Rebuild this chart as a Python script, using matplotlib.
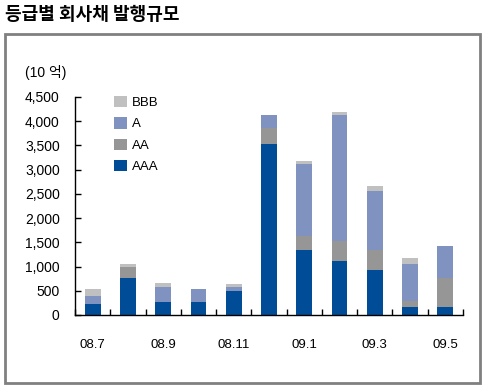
import matplotlib
matplotlib.use("Agg")
import matplotlib.pyplot as plt
from matplotlib.patches import Rectangle
import numpy as np

plt.rcParams['font.family'] = ['Liberation Sans', 'Noto Sans CJK KR', 'DejaVu Sans']

months = ["08.7", "08.8", "08.9", "08.10", "08.11", "08.12", "09.1", "09.2", "09.3", "09.4", "09.5"]
tick_labels = ["08.7", "", "08.9", "", "08.11", "", "09.1", "", "09.3", "", "09.5"]
aaa = [230, 765, 270, 270, 495, 3520, 1345, 1115, 930, 165, 165]
aa = [0, 225, 0, 0, 0, 345, 290, 405, 415, 125, 600]
a = [165, 0, 310, 265, 85, 265, 1490, 2610, 1220, 765, 660]
bbb = [145, 60, 80, 0, 60, 0, 60, 65, 100, 125, 0]

colors = {"AAA": "#004C97", "AA": "#969696", "A": "#7F92C0", "BBB": "#C0C0C0"}

fig = plt.figure(figsize=(4.85, 3.87), dpi=100)
ax = fig.add_axes([75/485, 72/387, 388/485, 218/387])

x = np.arange(len(months))
w = 0.45
b1 = np.array(aaa)
b2 = b1 + np.array(aa)
b3 = b2 + np.array(a)
h_aaa = ax.bar(x, aaa, w, color=colors["AAA"], label="AAA")
h_aa = ax.bar(x, aa, w, bottom=b1, color=colors["AA"], label="AA")
h_a = ax.bar(x, a, w, bottom=b2, color=colors["A"], label="A")
h_bbb = ax.bar(x, bbb, w, bottom=b3, color=colors["BBB"], label="BBB")

ax.set_xlim(-0.5, len(months) - 0.5)
ax.set_ylim(0, 4500)
ax.set_yticks(np.arange(0, 4501, 500))
ax.set_yticklabels([f"{v:,}" for v in range(0, 4501, 500)], fontsize=10)
ax.set_xticks(x)
ax.set_xticklabels(tick_labels, fontsize=9.5)
ax.set_xticks(np.arange(-0.5, len(months)), minor=True)
ax.tick_params(axis='x', which='major', length=0, pad=17)
ax.tick_params(axis='x', which='minor', direction='in', length=4, width=1)
ax.tick_params(axis='y', direction='in', length=4, width=1, pad=11)
for s in ['top', 'right']:
    ax.spines[s].set_visible(False)
for s in ['left', 'bottom']:
    ax.spines[s].set_linewidth(1)

leg = ax.legend(handles=[h_bbb, h_a, h_aa, h_aaa], labels=["BBB", "A", "AA", "AAA"],
                loc='upper left', bbox_to_anchor=(0.07, 1.06), frameon=False,
                fontsize=9.5, handlelength=0.95, handleheight=0.95, labelspacing=0.62,
                handletextpad=0.4)

fig.text(25/485, 1 - 72/387, "(10 억)", fontsize=10, va='center', ha='left')
fig.text(5/485, 1 - 15/387, "등급별 회사채 발행규모", fontsize=13, fontweight='bold',
         va='center', ha='left', family=['Noto Sans CJK KR'])

frame = Rectangle((5/485, 1 - 383/387), 475/485, 349/387, transform=fig.transFigure,
                  fill=False, edgecolor='#808080', linewidth=2)
fig.patches.append(frame)

fig.savefig("out.png", dpi=100)
